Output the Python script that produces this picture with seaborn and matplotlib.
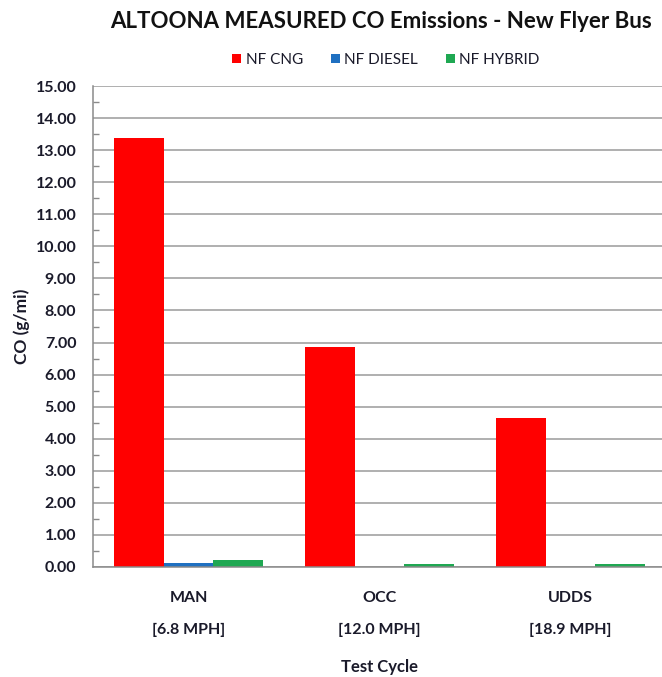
import numpy as np
import pandas as pd
import matplotlib
matplotlib.use("Agg")
import matplotlib.pyplot as plt
from matplotlib.ticker import MultipleLocator, FixedLocator, NullFormatter, FormatStrFormatter
import seaborn as sns

# values (g/mi)
cycles = ["MAN\n[6.8 MPH]", "OCC\n[12.0 MPH]", "UDDS\n[18.9 MPH]"]
buses = ["NF CNG", "NF DIESEL", "NF HYBRID"]
cng = [13.37, 6.85, 4.66]
diesel = [0.13, 0.0, 0.0]
hybrid = [0.21, 0.10, 0.08]
colors = ["#FF0000", "#1F70C1", "#1FA852"]

df = pd.DataFrame({
    "cycle": cycles * 3,
    "bus": [b for b in buses for _ in cycles],
    "co": cng + diesel + hybrid,
})

sns.set_style("white")
plt.rcParams["font.family"] = ["Lato", "DejaVu Sans"]
plt.rcParams["font.weight"] = "bold"
text_col = "#1a1a2a"

fig = plt.figure(figsize=(6.62, 6.77), dpi=100)
ax = fig.add_axes([93 / 662, 1 - 567 / 677, 3 * 191 / 662, 481 / 677])

sns.barplot(data=df, x="cycle", y="co", hue="bus", order=cycles, hue_order=buses,
            palette=colors, width=0.785, saturation=1, ax=ax, legend=True,
            linewidth=0, edgecolor="none")

ax.set_xlim(-0.5, 2.5)
ax.set_ylim(0, 15)
ax.yaxis.set_major_locator(MultipleLocator(1))
ax.yaxis.set_minor_locator(MultipleLocator(0.5))
ax.yaxis.set_major_formatter(FormatStrFormatter("%.2f"))
ax.grid(axis="y", which="major", color="#9a9a9a", lw=1.1)
ax.set_axisbelow(True)

# category boundaries as major ticks, labels as minor ticks
ax.xaxis.set_major_locator(FixedLocator([-0.5, 0.5, 1.5, 2.5]))
ax.xaxis.set_major_formatter(NullFormatter())
ax.xaxis.set_minor_locator(FixedLocator([0, 1, 2]))
ax.set_xticklabels(cycles, minor=True, fontweight="bold", fontsize=11.5,
                   color=text_col, linespacing=2.6)
ax.tick_params(axis="x", which="major", length=7, width=1.1, color="#8a8a8a", direction="out")
ax.tick_params(axis="x", which="minor", length=0, pad=17)

ax.tick_params(axis="y", which="major", length=6, width=1.1, color="#8a8a8a",
               direction="out", pad=6, labelsize=11.5, labelcolor=text_col)
ax.tick_params(axis="y", which="minor", length=4, width=1.0, color="#8a8a8a",
               direction="in", left=True)

for s in ["top", "right"]:
    ax.spines[s].set_visible(False)
for s in ["left", "bottom"]:
    ax.spines[s].set_color("#8a8a8a")
    ax.spines[s].set_linewidth(1.1)

ax.set_xlabel("Test Cycle", fontsize=12, fontweight="bold", color=text_col, labelpad=16)
ax.set_ylabel("CO (g/mi)", fontsize=12.5, fontweight="bold", color=text_col, labelpad=4)

fig.text(381 / 662, 1 - 22 / 677, "ALTOONA MEASURED CO Emissions - New Flyer Bus",
         ha="center", va="center", fontsize=16, fontweight="bold", color="#111111")

ax.legend(loc="center", bbox_to_anchor=(386 / 662, 1 - 60 / 677),
          bbox_transform=fig.transFigure, ncol=3, frameon=False,
          prop={"family": ["Lato", "DejaVu Sans"], "size": 11, "weight": "normal"},
          handlelength=0.6, handleheight=0.6, handletextpad=0.3, columnspacing=1.8,
          labelcolor=text_col)

fig.savefig("out.png", dpi=100)
